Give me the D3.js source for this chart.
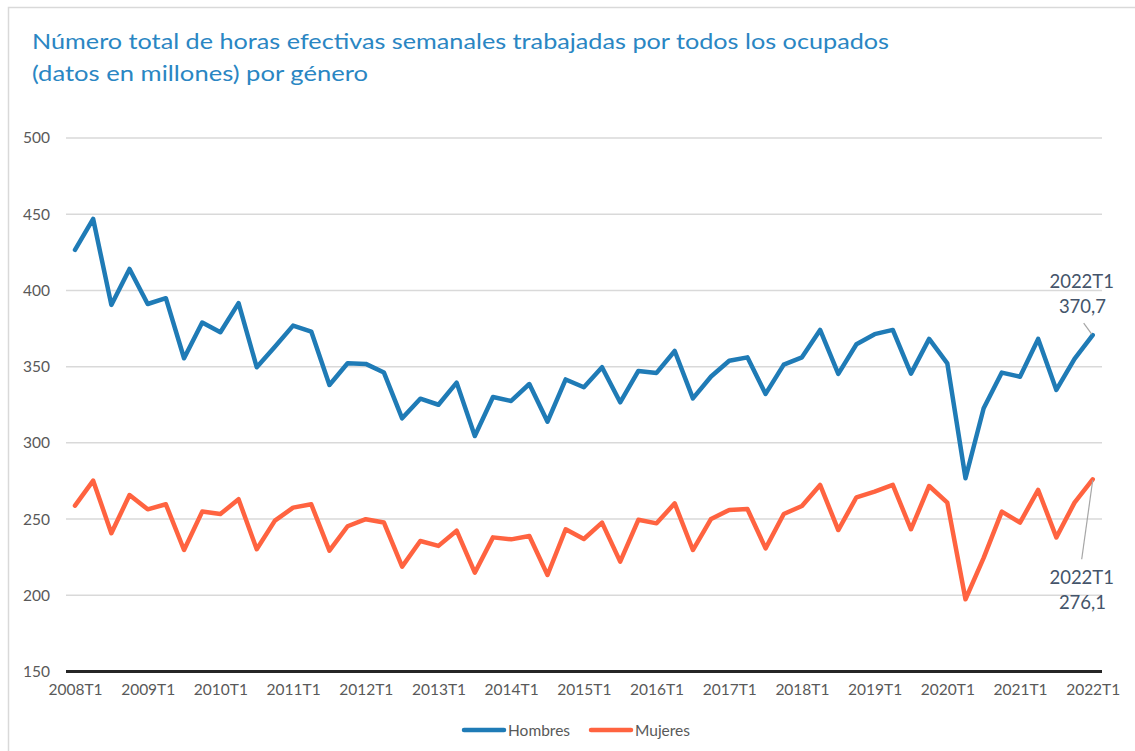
<!DOCTYPE html>
<html>
<head>
<meta charset="utf-8">
<script src="https://cdn.jsdelivr.net/npm/d3@7"></script>
<style>
	body { margin: 0; background: #fff; }
	text { font-family: Lato, 'Noto Sans', sans-serif; }
</style>
</head>
<body>
<div id="chart"></div>
<script>
// quarters 2008T1 .. 2022T1
var quarters = [];
for (var yr = 2008; yr <= 2022; yr++) {
	for (var q = 1; q <= 4; q++) {
		if (yr == 2022 && q > 1) break;
		quarters.push(yr + 'T' + q);
	}
}

var hombres = [426.6, 446.9, 390.5, 414.1, 391.1, 394.9, 355.5, 378.9, 372.6, 391.7,
	349.6, 363.1, 376.9, 373.0, 338.0, 352.2, 351.8, 346.1, 316.1, 329.0,
	325.0, 339.5, 304.5, 330.1, 327.5, 338.6, 313.9, 341.6, 336.5, 349.6,
	326.6, 347.2, 345.9, 360.3, 329.2, 343.5, 353.9, 356.1, 332.1, 351.3,
	356.1, 374.1, 345.3, 364.7, 371.3, 374.1, 345.4, 368.2, 352.2, 276.8,
	322.7, 346.1, 343.4, 368.2, 334.7, 355.1, 370.7];

var mujeres = [258.8, 275.2, 240.7, 265.8, 256.4, 259.7, 229.7, 254.9, 253.3, 263.0,
	230.2, 249.0, 257.5, 259.7, 229.3, 245.3, 249.9, 247.7, 218.8, 235.6,
	232.4, 242.4, 214.8, 238.0, 236.7, 238.9, 213.3, 243.3, 236.9, 247.7,
	222.1, 249.5, 247.2, 260.3, 229.7, 250.1, 256.0, 256.6, 230.8, 253.3,
	258.6, 272.4, 242.8, 264.3, 268.0, 272.4, 243.3, 271.7, 260.8, 197.4,
	224.5, 254.9, 247.7, 269.1, 238.0, 260.8, 276.1];

var y_ticks = [150, 200, 250, 300, 350, 400, 450, 500];
var series_names = ['Hombres', 'Mujeres'];
var colors = ['#1f7bb6', '#ff6340'];

var W = 1135, H = 751;
var svg = d3.select('#chart')
	.append('svg')
		.attr('width', W)
		.attr('height', H);

// outer frame
svg.append('rect')
	.attr('x', 8.5)
	.attr('y', 7.5)
	.attr('width', W + 10)
	.attr('height', H + 10)
	.attr('fill', 'none')
	.attr('stroke', '#d9d9d9')
	.attr('stroke-width', 1.5);

// title
svg.append('text')
	.attr('x', 32)
	.attr('y', 49)
	.attr('textLength', 857)
	.attr('lengthAdjust', 'spacingAndGlyphs')
	.style('font-size', '22px')
	.style('fill', '#2a86c3')
	.text('Número total de horas efectivas semanales trabajadas por todos los ocupados');
svg.append('text')
	.attr('x', 32)
	.attr('y', 81)
	.attr('textLength', 336)
	.attr('lengthAdjust', 'spacingAndGlyphs')
	.style('font-size', '22px')
	.style('fill', '#2a86c3')
	.text('(datos en millones) por género');

var x = d3.scalePoint()
	.domain(quarters)
	.range([75, 1092.7]);

var y = d3.scaleLinear()
	.domain([150, 500])
	.range([671.5, 138]);

// gridlines
svg.append('g')
	.selectAll('line')
	.data(y_ticks.slice(1))
	.enter()
	.append('line')
		.attr('x1', 66)
		.attr('x2', 1102)
		.attr('y1', function(d) { return y(d); })
		.attr('y2', function(d) { return y(d); })
		.attr('stroke', '#d9d9d9')
		.attr('stroke-width', 1.5);

// y axis labels
var y_axis = svg.append('g')
	.attr('transform', 'translate(50,0)')
	.call(d3.axisLeft(y).tickValues(y_ticks).tickSize(0).tickPadding(0));
y_axis.select('.domain').remove();
y_axis.selectAll('text')
	.style('font-size', '15.5px')
	.style('fill', '#595959')
	.style('font-family', 'Lato, "Noto Sans", sans-serif');

// base line at 150
svg.append('line')
	.attr('x1', 66)
	.attr('x2', 1102)
	.attr('y1', y(150))
	.attr('y2', y(150))
	.attr('stroke', '#262626')
	.attr('stroke-width', 3);

// x axis labels
var x_axis = svg.append('g')
	.attr('transform', 'translate(0,' + (y(150) + 12) + ')')
	.call(d3.axisBottom(x)
		.tickValues(quarters.filter(function(d, i) { return i % 4 == 0; }))
		.tickSize(0).tickPadding(0));
x_axis.select('.domain').remove();
x_axis.selectAll('text')
	.style('font-size', '15.5px')
	.style('fill', '#595959')
	.style('font-family', 'Lato, "Noto Sans", sans-serif');

// lines
var line = d3.line()
	.x(function(d, i) { return x(quarters[i]); })
	.y(function(d) { return y(d); });

[hombres, mujeres].forEach(function(s, k) {
	svg.append('path')
		.datum(s)
		.attr('d', line)
		.attr('fill', 'none')
		.attr('stroke', colors[k])
		.attr('stroke-width', 4.5)
		.attr('stroke-linejoin', 'round')
		.attr('stroke-linecap', 'round');
});

// data labels for last point
var last = quarters.length - 1;
var fmt = function(v) { return v.toFixed(1).replace('.', ','); };

svg.append('line')
	.attr('x1', x(quarters[last]) - 9)
	.attr('y1', y(hombres[last]) - 12)
	.attr('x2', x(quarters[last]) - 1)
	.attr('y2', y(hombres[last]) - 1)
	.attr('stroke', '#a6a6a6')
	.attr('stroke-width', 1.2);
svg.append('text')
	.attr('x', 1114)
	.attr('y', 288)
	.attr('text-anchor', 'end')
	.style('font-size', '18.5px')
	.style('fill', '#44546a')
	.text(quarters[last]);
svg.append('text')
	.attr('x', 1106)
	.attr('y', 313)
	.attr('text-anchor', 'end')
	.style('font-size', '18.5px')
	.style('fill', '#44546a')
	.text(fmt(hombres[last]));

svg.append('line')
	.attr('x1', x(quarters[last]) - 11)
	.attr('y1', y(mujeres[last]) + 80)
	.attr('x2', x(quarters[last]))
	.attr('y2', y(mujeres[last]) + 1)
	.attr('stroke', '#a6a6a6')
	.attr('stroke-width', 1.2);
svg.append('text')
	.attr('x', 1114)
	.attr('y', 584)
	.attr('text-anchor', 'end')
	.style('font-size', '18.5px')
	.style('fill', '#44546a')
	.text(quarters[last]);
svg.append('text')
	.attr('x', 1106)
	.attr('y', 609)
	.attr('text-anchor', 'end')
	.style('font-size', '18.5px')
	.style('fill', '#44546a')
	.text(fmt(mujeres[last]));

// legend
var legend_x = [464, 591];
series_names.forEach(function(name, k) {
	svg.append('line')
		.attr('x1', legend_x[k])
		.attr('x2', legend_x[k] + 40)
		.attr('y1', 730)
		.attr('y2', 730)
		.attr('stroke', colors[k])
		.attr('stroke-width', 4.5)
		.attr('stroke-linecap', 'round');
	svg.append('text')
		.attr('x', legend_x[k] + 44)
		.attr('y', 735.5)
		.style('font-size', '15.5px')
		.style('fill', '#595959')
		.text(name);
});
</script>
</body>
</html>
